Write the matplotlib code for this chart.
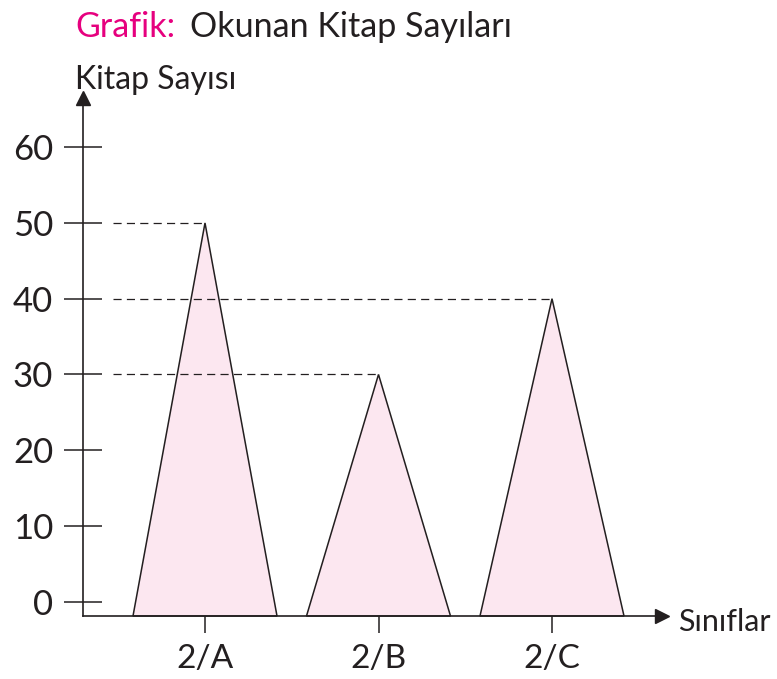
import matplotlib.pyplot as plt
from matplotlib.patches import Polygon

# Data
classes = ["2/A", "2/B", "2/C"]
books = [50, 30, 40]
y_ticks = [0, 10, 20, 30, 40, 50, 60]

INK = "#231F20"
FILL = "#FCE7F0"
PINK = "#E6007E"

plt.rcParams["font.family"] = ["Lato", "DejaVu Sans"]

W, H = 777, 679
fig = plt.figure(figsize=(W / 100, H / 100), dpi=100)

# axes frame in pixel terms (left, right, bottom, top)
pl, pr, pb, pt = 83, 662, 616, 98
ax = fig.add_axes([pl / W, 1 - pb / H, (pr - pl) / W, (pb - pt) / H])

x_step = 173.5      # pixels per class
y_step = 7.575      # pixels per book
x0_px, y0_px = 205, 601.7
ax.set_xlim((pl - x0_px) / x_step, (pr - x0_px) / x_step)
ax.set_ylim((y0_px - pb) / y_step, (y0_px - pt) / y_step)
ybase = ax.get_ylim()[0]
xleft = ax.get_xlim()[0]

half = 0.415
for i, v in enumerate(books):
    tri = Polygon([(i - half, ybase), (i, v), (i + half, ybase)], closed=True,
                  facecolor=FILL, edgecolor=INK, linewidth=1.1,
                  joinstyle="miter", zorder=2, clip_on=False)
    ax.add_patch(tri)
    ax.plot([xleft + 0.175, i], [v, v], color=INK, linewidth=0.9,
            linestyle=(0, (6.5, 4.2)), zorder=3)

for s in ("top", "right"):
    ax.spines[s].set_visible(False)
for s in ("left", "bottom"):
    ax.spines[s].set_color(INK)
    ax.spines[s].set_linewidth(1.2)
    ax.spines[s].set_zorder(4)

ax.set_yticks(y_ticks)
ax.set_xticks(range(len(classes)))
ax.set_xticklabels(classes)
ax.tick_params(axis="y", direction="inout", length=27, width=1.1, color=INK,
               pad=8, labelsize=25, labelcolor=INK)
ax.tick_params(axis="x", direction="inout", length=25, width=1.1, color=INK,
               pad=8, labelsize=24, labelcolor=INK)

# arrow heads at the ends of the axes
ax.plot(1, 0, marker=">", markersize=10, color=INK, transform=ax.transAxes,
        clip_on=False, zorder=5)
ax.plot(0, 1, marker="^", markersize=10, color=INK, transform=ax.transAxes,
        clip_on=False, zorder=5)

ax.set_facecolor("none")

fig.text(75 / W, 1 - 37 / H, "Grafik:", color=PINK, fontsize=24.5,
         va="baseline", ha="left")
fig.text(190 / W, 1 - 37 / H, "Okunan Kitap Sayıları", color=INK, fontsize=24.5,
         va="baseline", ha="left")
fig.text(75 / W, 1 - 89 / H, "Kitap Sayısı", color=INK, fontsize=23,
         va="baseline", ha="left")
fig.text(678 / W, 1 - 631 / H, "Sınıflar", color=INK, fontsize=22,
         va="baseline", ha="left")

fig.savefig("out.png", dpi=100, facecolor="white")
